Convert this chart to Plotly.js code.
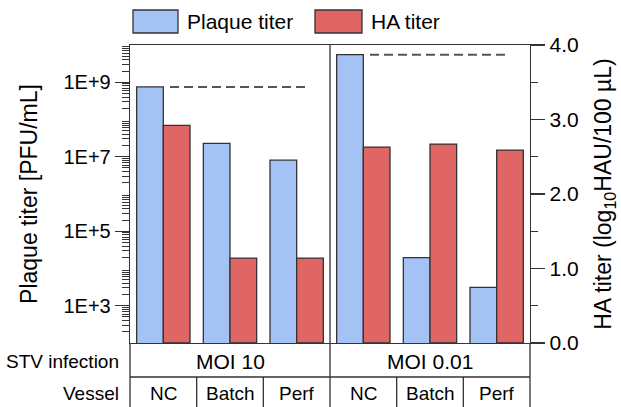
<!DOCTYPE html>
<html><head><meta charset="utf-8">
<script src="https://cdn.plot.ly/plotly-3.0.1.min.js"></script>
<style>html,body{margin:0;padding:0;background:#fff}#chart{width:621px;height:407px}</style>
</head><body><div id="chart"></div>
<script>
// ---- data ----
const infections = ["MOI 10", "MOI 0.01"];
const vessels = ["NC", "Batch", "Perf", "NC", "Batch", "Perf"];
const plaqueTiter = [7.5e8, 2.3e7, 8.1e6, 5.5e9, 1.95e4, 3.1e3];   // PFU/mL
const haTiter = [2.92, 1.14, 1.14, 2.63, 2.67, 2.59];               // log10 HAU/100 uL
const seedTiter = [7.5e8, 5.5e9];                                   // dashed reference per infection
const seriesNames = ["Plaque titer", "HA titer"];
const leftDecades = [1e2, 1e3, 1e4, 1e5, 1e6, 1e7, 1e8, 1e9, 1e10];
const leftTickVals = [1e3, 1e5, 1e7, 1e9];
const leftTickText = ["1E+3", "1E+5", "1E+7", "1E+9"];
const rightTickVals = [0, 1, 2, 3, 4];
const rightTickText = ["0.0", "1.0", "2.0", "3.0", "4.0"];
const rowLabels = ["STV infection", "Vessel"];

// ---- styling ----
const FONT = "Liberation Sans, Arial, sans-serif";
const FS = 21;
const INK = "#333333";
const colors = ["#a4c2f4", "#e06666"];

const idx = vessels.map((_, i) => i);
const perGroup = vessels.length / infections.length;

const minorVals = [];
for (let d = 2; d < 10; d++) for (let m = 2; m <= 9; m++) minorVals.push(m * Math.pow(10, d));

const traces = [
  {type: "bar", name: seriesNames[0], x: idx, y: plaqueTiter, yaxis: "y", width: 0.4, offset: -0.4,
   marker: {color: colors[0], line: {color: INK, width: 1.3}}, showlegend: false},
  {type: "bar", name: seriesNames[1], x: idx, y: haTiter, yaxis: "y2", width: 0.4, offset: 0,
   marker: {color: colors[1], line: {color: INK, width: 1.3}}, showlegend: false}
];
seedTiter.forEach((v, g) => {
  traces.push({type: "scatter", mode: "lines", x: [g * perGroup + 0.1, g * perGroup + 2.2], y: [v, v],
    yaxis: "y", line: {color: "#555", width: 2, dash: "9px,5px"}, showlegend: false, hoverinfo: "skip"});
});

// ---- table / legend ----
const L = 130, T = 45, PW = 400, PH = 298, H = 407;
const py = p => (T + PH - p) / PH;   // pixel y -> paper y
const px = p => (p - L) / PW;        // pixel x -> paper x
const shapes = [];
const annotations = [];
const line = (x0, y0, x1, y1) => shapes.push({type: "line", xref: "paper", yref: "paper",
  x0: px(x0), x1: px(x1), y0: py(y0), y1: py(y1), line: {color: INK, width: 1.3}});
line(130, 343, 130, H);
line(330, 45, 330, H);
line(530, 343, 530, H);
line(130, 377, 530, 377);
for (let i = 1; i < vessels.length; i++) {
  if (i % perGroup === 0) continue;
  const xp = L + PW * i / vessels.length;
  line(xp, 377, xp, H);
}
const txt = (o) => annotations.push(Object.assign({showarrow: false, yanchor: "middle", xanchor: "center"}, o));
infections.forEach((t, g) => txt({xref: "paper", yref: "paper", x: (g + 0.5) / infections.length,
  y: py(361), text: t, font: {size: FS, color: "#000", family: FONT}}));
vessels.forEach((t, i) => txt({xref: "x", yref: "paper", x: i, y: py(393), text: t,
  font: {size: FS - 2, color: "#000", family: FONT}}));
rowLabels.forEach((t, r) => txt({xref: "paper", yref: "paper", x: px(121), xanchor: "right",
  y: py(r === 0 ? 361 : 393), text: t, font: {size: FS - 2, color: "#000", family: FONT}}));

// legend
const legBoxes = [[133, 178], [315, 362]];
seriesNames.forEach((n, k) => {
  shapes.push({type: "rect", xref: "paper", yref: "paper", x0: px(legBoxes[k][0]), x1: px(legBoxes[k][1]),
    y0: py(33), y1: py(10), fillcolor: colors[k], line: {color: INK, width: 1.3}});
  txt({xref: "paper", yref: "paper", x: px(legBoxes[k][1] + 7), xanchor: "left", y: py(21.5),
    text: n, font: {size: FS, color: "#000", family: FONT}});
});

const layout = {
  width: 621, height: 407,
  margin: {l: 130, r: 91, t: 45, b: 64, pad: 0},
  paper_bgcolor: "#fff", plot_bgcolor: "#fff",
  font: {family: FONT, size: FS, color: "#000"},
  showlegend: false,
  xaxis: {range: [-0.5, vessels.length - 0.5], showticklabels: false, ticks: "", showgrid: false, zeroline: false,
    showline: true, mirror: true, linecolor: INK, linewidth: 1.3, fixedrange: true},
  yaxis: {type: "log", range: [2, 10], tickmode: "array", tickvals: leftTickVals, ticktext: leftTickText,
    ticks: "outside", ticklen: 14, tickwidth: 1.3, tickcolor: INK, showgrid: false, zeroline: false,
    showline: true, linecolor: INK, linewidth: 1.3,
    minor: {tickmode: "array", tickvals: minorVals, ticks: "outside", ticklen: 7, tickwidth: 1, tickcolor: INK, showgrid: false},
    tickfont: {size: FS - 1, family: FONT},
    title: {text: "Plaque titer [PFU/mL]", font: {size: FS + 2, family: FONT}, standoff: 19}},
  yaxis3: {type: "log", range: [2, 10], overlaying: "y", side: "left", anchor: "x", tickmode: "array",
    tickvals: leftDecades, showticklabels: false, ticks: "outside", ticklen: 14, tickwidth: 1.3, tickcolor: INK,
    showgrid: false, zeroline: false, showline: false},
  yaxis2: {overlaying: "y", side: "right", anchor: "x", range: [0, 4], tickmode: "array",
    tickvals: rightTickVals, ticktext: rightTickText,
    ticks: "outside", ticklen: 14, tickwidth: 1.3, tickcolor: INK, showgrid: false, zeroline: false,
    showline: true, linecolor: INK, linewidth: 1.3,
    minor: {dtick: 0.5, ticks: "outside", ticklen: 7, tickwidth: 1, tickcolor: INK, showgrid: false},
    tickfont: {size: FS, family: FONT},
    title: {text: "HA titer (log<sub>10</sub>HAU/100 µL)", font: {size: FS + 2, family: FONT}, standoff: 17}},
  shapes: shapes,
  annotations: annotations
};

Plotly.newPlot("chart", traces, layout, {displayModeBar: false, staticPlot: true});
</script>
</body></html>
